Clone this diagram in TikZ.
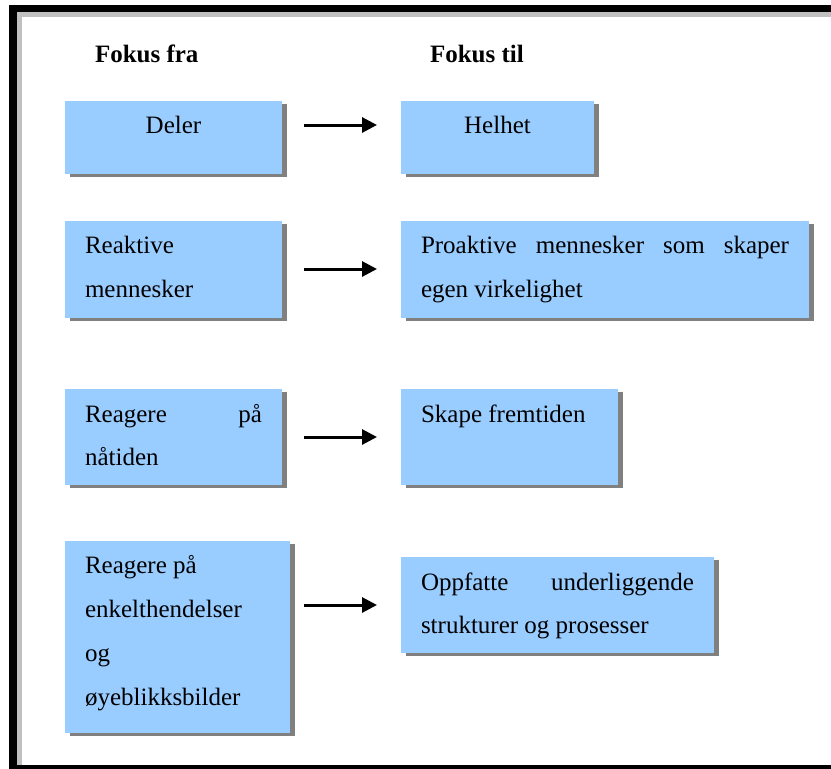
\documentclass[tikz,border=0pt]{standalone}
\usepackage{fontspec}
\setmainfont{Liberation Serif}
\usetikzlibrary{arrows.meta,shadows}
\definecolor{boxblue}{HTML}{99CCFF}
\definecolor{shadowgray}{HTML}{808080}
\definecolor{framegray}{HTML}{C0C0C0}
\tikzset{
  boxnode/.style={draw=none, fill=boxblue, inner sep=0pt, outer sep=0pt, anchor=north west,
    drop shadow={shadow xshift=5pt, shadow yshift=-2.5pt, fill=shadowgray, opacity=1}},
  txt/.style={anchor=base west, inner sep=0pt, outer sep=0pt, font=\fontsize{25pt}{30pt}\selectfont},
  ctxt/.style={anchor=base, inner sep=0pt, outer sep=0pt, font=\fontsize{25pt}{30pt}\selectfont},
  head/.style={anchor=base west, inner sep=0pt, outer sep=0pt, font=\fontsize{25pt}{30pt}\selectfont\bfseries},
  arr/.style={line width=3pt, -{Triangle[length=15pt,width=15pt]}}
}
\begin{document}
\begin{tikzpicture}[x=1pt,y=-1pt]
\useasboundingbox (0,0) rectangle (831,769);
\clip (0,0) rectangle (831,769);
\fill[white] (0,0) rectangle (831,769);
% frame
\fill[black] (9,5) rectangle (850,790);
\fill[framegray] (17,12) rectangle (850,765);
\fill[white] (22,17) rectangle (850,765);
% headers
\node[head] (h1) at (95,62) {Fokus fra};
\node[head] (h2) at (430,62) {Fokus til};
% boxes
\node[boxnode, minimum width=217pt, minimum height=73pt] (b1) at (65,101) {};
\node[boxnode, minimum width=193pt, minimum height=73pt] (b2) at (401,101) {};
\node[boxnode, minimum width=217pt, minimum height=97pt] (b3) at (65,221) {};
\node[boxnode, minimum width=408pt, minimum height=97pt] (b4) at (401,221) {};
\node[boxnode, minimum width=217pt, minimum height=96pt] (b5) at (65,389) {};
\node[boxnode, minimum width=217pt, minimum height=96pt] (b6) at (401,389) {};
\node[boxnode, minimum width=225pt, minimum height=192pt] (b7) at (65,541) {};
\node[boxnode, minimum width=313pt, minimum height=96pt] (b8) at (401,557) {};
% texts
\node[ctxt] (t1) at (173.5,133) {Deler};
\node[ctxt] (t2) at (497.5,133) {Helhet};
\node[txt] (t3a) at (85,253) {Reaktive};
\node[txt] (t3b) at (85,297) {mennesker};
\node[txt] (t4a) at (421,253) {\hbox to 368pt{Proaktive\hfill mennesker\hfill som\hfill skaper}};
\node[txt] (t4b) at (421,297) {egen virkelighet};
\node[txt] (t5a) at (85,422) {\hbox to 177pt{Reagere\hfill på}};
\node[txt] (t5b) at (85,465) {nåtiden};
\node[txt] (t6) at (421,422) {Skape fremtiden};
\node[txt] (t7a) at (85,573) {Reagere på};
\node[txt] (t7b) at (85,617) {enkelthendelser};
\node[txt] (t7c) at (85,661) {og};
\node[txt] (t7d) at (85,705) {øyeblikksbilder};
\node[txt] (t8a) at (421,590) {\hbox to 273pt{Oppfatte\hfill underliggende}};
\node[txt] (t8b) at (421,633) {strukturer og prosesser};
% arrows
\coordinate (a1s) at (304,125); \coordinate (a1e) at (377,125);
\coordinate (a2s) at (304,269); \coordinate (a2e) at (377,269);
\coordinate (a3s) at (304,437); \coordinate (a3e) at (377,437);
\coordinate (a4s) at (304,605); \coordinate (a4e) at (377,605);
\draw[arr] (a1s) -- (a1e);
\draw[arr] (a2s) -- (a2e);
\draw[arr] (a3s) -- (a3e);
\draw[arr] (a4s) -- (a4e);
\end{tikzpicture}
\end{document}
